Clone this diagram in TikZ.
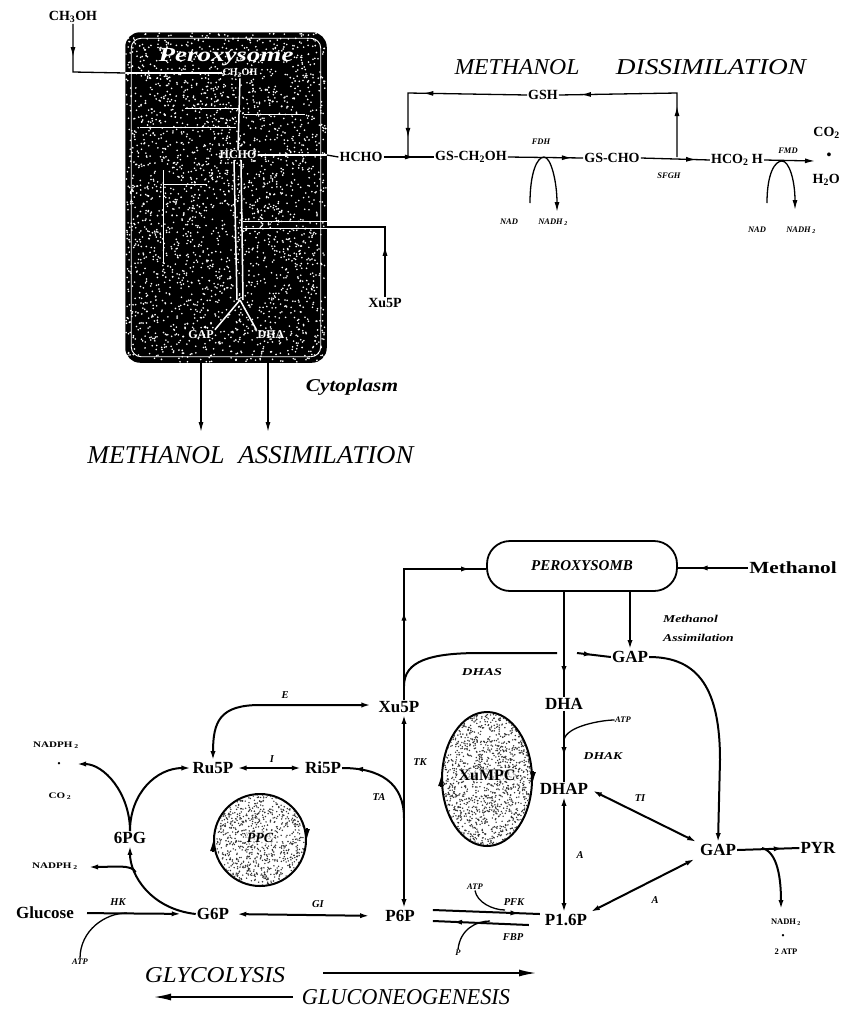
\documentclass[tikz,border=0pt]{standalone}
\usepackage{fontspec}
\usepackage{graphicx}
\setmainfont{Liberation Serif}
\usetikzlibrary{arrows.meta,decorations.markings,shapes.geometric,calc}
\newcommand{\fitw}[3]{\resizebox{#1pt}{#2pt}{#3}}
\newcommand{\sx}[2]{\scalebox{#1}[1]{#2}}
\begin{document}
\begin{tikzpicture}[x=1pt,y=-1pt,
  lab/.style={font=\fontsize{17}{19}\selectfont\bfseries, inner sep=1pt},
  tlab/.style={font=\fontsize{14}{16}\selectfont\bfseries, inner sep=1pt},
  enz/.style={font=\fontsize{10.5}{12}\selectfont\bfseries\itshape, inner sep=0.5pt},
  sml/.style={font=\fontsize{8.5}{10}\selectfont\bfseries, inner sep=0.5pt},
  smli/.style={font=\fontsize{8.5}{10}\selectfont\bfseries\itshape, inner sep=0.5pt},
  wlab/.style={font=\fontsize{12}{14}\selectfont\bfseries, text=white, inner sep=1pt},
  wl/.style={draw=white, line width=1.5pt},
  ln/.style={line width=2pt},
  tl/.style={line width=1.3pt},
  tip/.style={-{Latex[length=10pt,width=5pt]}},
  btip/.style={{Latex[length=10pt,width=5pt]}-{Latex[length=10pt,width=5pt]}},
  mid/.style={postaction={decorate,decoration={markings,mark=at position #1 with {\arrow{Latex[length=10pt,width=5pt]}}}}},
  midr/.style={postaction={decorate,decoration={markings,mark=at position #1 with {\arrowreversed{Latex[length=10pt,width=5pt]}}}}},
]
\useasboundingbox (0,0) rectangle (842,1010);

% ================= TOP: peroxisome box =================
\node[draw=black, line width=1.5pt, fill=black, rounded corners=14pt,
      minimum width=200, minimum height=329, inner sep=0pt] (pbox) at (226,197.5) {};
\begin{scope}
  \clip[rounded corners=14pt] (pbox.north west) rectangle (pbox.south east);
  \pgfmathsetseed{11}
  \foreach \i in {1,...,2600}{
    \pgfmathsetmacro{\rx}{126+200*rnd}
    \pgfmathsetmacro{\ry}{33+329*rnd}
    \fill[white] (\rx,\ry) circle (0.9);
  }
\end{scope}
\draw[white, line width=0.9pt, rounded corners=10pt]
  ($(pbox.north west)+(6,6)$) rectangle ($(pbox.south east)+(-6,-6)$);

\node[font=\fontsize{20}{22}\selectfont\bfseries\itshape, text=white, inner sep=0pt] (ptitle) at (226,57) {\sx{1.35}{Peroxysome}};
\node[wlab, font=\fontsize{10}{12}\selectfont\bfseries] (wch) at (240,73) {CH\textsubscript{3}OH};
\node[wlab] (whcho) at (238,155) {HCHO};
\node[wlab] (wgap) at (201,335) {GAP};
\node[wlab] (wdha) at (271,335) {DHA};

\coordinate (win) at (pbox.west |- wch);
\draw[wl] (win) -- (wch.west);
\draw[wl] (wch.south) -- (whcho.north);
\draw[wl, line width=1pt] (240,108) -- (185,108);
\draw[wl, line width=1pt] (236,127) -- (140,127);
\draw[wl, line width=1pt] (244,114) -- (305,114);
\draw[wl, line width=1pt] (163,170) -- (163,262);
\draw[wl, line width=1pt] (163,184) -- (207,184);
\coordinate (wr1) at (pbox.east |- whcho);
\draw[wl] (whcho.east) -- (wr1);
\coordinate (yv) at (240,300);
\draw[wl] ($(whcho.south)+(-4,0)$) -- ($(yv)+(-3,0)$);
\draw[wl] ($(whcho.south)+(3,0)$) -- ($(yv)+(3,0)$);
\draw[wl] (yv) -- (wgap.north east);
\draw[wl] (yv) -- (wdha.north west);
\coordinate (wx1) at (243,221);
\coordinate (wx2) at (243,228);
\draw[wl, line width=1pt] (wx1) -- (wx1 -| pbox.east);
\draw[wl, line width=1pt] (wx2) -- (wx2 -| pbox.east);

% outside of the box
\node[tlab] (ch3oh) at (73,17) {CH\textsubscript{3}OH};
\coordinate (c1) at (73,72);
\draw[tl, mid=0.33] (ch3oh.south) -- (c1) -- (win);

\node[tlab] (hcho) at (361,157) {HCHO};
\draw[tl] (wr1) -- (hcho.west);

\node[tlab] (xu5pt) at (385,303) {Xu5P};
\coordinate (xb) at (385,227);
\draw[tl, midr=0.6] (xb -| pbox.east) -- (xb) -- (xu5pt.north);

\coordinate (ga) at (201,432);
\coordinate (da) at (268,432);
\draw[tl, tip] (pbox.south -| ga) -- (ga);
\draw[tl, tip] (pbox.south -| da) -- (da);

\node[inner sep=0pt] (cyto) at (352,387) {\fitw{92}{12.5}{\bfseries\itshape Cytoplasm}};
\node[inner sep=0pt] (ma1) at (156,455) {\fitw{137}{17}{\itshape METHANOL}};
\node[inner sep=0pt] (ma2) at (326,455) {\fitw{175}{17}{\itshape ASSIMILATION}};

% ================= TOP: dissimilation =================
\node[inner sep=0pt] (md1) at (517,67) {\fitw{125}{15}{\itshape METHANOL}};
\node[inner sep=0pt] (md2) at (711,67) {\fitw{190}{15}{\itshape DISSIMILATION}};

\node[tlab] (gsh) at (543,95) {GSH};
\node[tlab] (gsch2oh) at (471,157) {GS-CH\textsubscript{2}OH};
\node[tlab] (gscho) at (612,158) {GS-CHO};
\node[tlab] (hco2h) at (737,160) {HCO\textsubscript{2} H};
\node[tlab, anchor=east] (co2) at (841,133) {CO\textsubscript{2}};
\node[tlab] (dotr) at (829,156) {\textbullet};
\node[tlab, anchor=east] (h2o) at (841,180) {H\textsubscript{2}O};

\coordinate (j1) at (408,156);
\coordinate (gl) at (408,93);
\draw[tl, mid=0.62] (hcho.east) -- (gsch2oh.west);
\draw[tl, mid=0.57, mid=0.9] (gsh.west) -- (gl) -- (j1);

\draw[tl, mid=0.85] (gsch2oh.east) -- (gscho.west);
\node[smli] (fdh) at (541,142) {FDH};
\node[smli] (nad1) at (509,222) {NAD};
\node[smli] (nadh1) at (553,222) {NADH\,\textsubscript{2}};
\coordinate (fa) at (530,203);
\coordinate (ft) at (544,157);
\coordinate (fb) at (557,212);
\draw[tl, tip] (fa) .. controls +(0,-30) and +(-7,0) .. (ft) .. controls +(7,0) and +(0,-30) .. (fb);

\coordinate (j2) at (677,157);
\coordinate (gr) at (677,93);
\draw[tl, mid=0.8] (gscho.east) -- (hco2h.west);
\draw[tl, midr=0.12, midr=0.72] (gsh.east) -- (gr) -- (j2);
\node[smli] (sfgh) at (669,176) {SFGH};

\coordinate (me) at (815,161);
\draw[tl, tip] (hco2h.east) -- (me);
\node[smli] (fmd) at (788,151) {FMD};
\node[smli] (nad2) at (757,230) {NAD};
\node[smli] (nadh2t) at (801,230) {NADH\,\textsubscript{2}};
\coordinate (ma) at (767,203);
\coordinate (mt) at (782,161);
\coordinate (mb) at (795,210);
\draw[tl, tip] (ma) .. controls +(0,-30) and +(-7,0) .. (mt) .. controls +(7,0) and +(0,-30) .. (mb);

% ================= BOTTOM =================
\node[draw, line width=1.8pt, rounded corners=23pt, minimum width=190, minimum height=50,
      font=\fontsize{15}{17}\selectfont\bfseries\itshape] (pero) at (582,566) {PEROXYSOMB};
\node[lab] (meth) at (793,568) {\sx{1.25}{Methanol}};
\draw[ln, mid=0.72] (meth.west) -- (pero.east |- meth.west);

\node[font=\fontsize{10.5}{19}\selectfont\bfseries\itshape, align=left, anchor=west, inner sep=0pt] (massim) at (663,628) {\sx{1.3}{Methanol}\\\sx{1.3}{Assimilation}};

\node[lab] (gapu) at (630,657) {GAP};
\draw[ln, tip] (pero.south -| gapu) -- (gapu.north);

\node[lab] (dha) at (564,704) {DHA};
\draw[ln, mid=0.8] (pero.south -| dha) -- (dha.north);

\node[lab] (xu5p) at (399,707) {Xu5P};
\coordinate (xup) at (404,569);
\draw[ln, mid=0.42, mid=0.93] (xu5p.north -| xup) -- (xup) -- (pero.west |- xup);

\coordinate (dh1) at (404,686);
\coordinate (dhm) at (480,653);
\coordinate (dh2) at (557,653);
\coordinate (dh3) at (577,653);
\draw[ln] (dh1) .. controls +(0,-25) and +(-50,0) .. (dhm) -- (dh2);
\draw[ln, mid=0.5] (dh3) -- (gapu.west);
\node[enz] (dhas) at (482,672) {\sx{1.4}{DHAS}};

\node[lab] (gapl) at (718,850) {GAP};
\coordinate (gc) at (720,760);
\draw[ln, tip] (gapu.east) .. controls +(50,0) and +(0,-70) .. (gc) -- (gapl.north);

\node[lab] (dhap) at (564,789) {DHAP};
\draw[ln, mid=0.65] (dha.south) -- (dhap.north);
\node[smli] (atp1) at (623,720) {ATP};
\coordinate (ab) at (564,740);
\draw[tl] (ab) .. controls +(2,-14) and +(-12,0) .. (atp1.west);
\node[enz] (dhak) at (603,756) {\sx{1.3}{DHAK}};

\node[lab] (f16p) at (566,920) {P1.6P};
\draw[ln, btip] (dhap.south -| dha) -- (f16p.north -| dha);
\node[enz] (a1) at (580,855) {A};

\draw[ln, btip, shorten <=3pt, shorten >=2pt] (dhap.east) -- (gapl.north west);
\node[enz] (ti) at (640,798) {TI};
\draw[ln, btip, shorten <=2pt, shorten >=4pt] (f16p.north east) -- (gapl.south west);
\node[enz] (a2) at (655,900) {A};

\node[lab] (pyr) at (818,848) {PYR};
\draw[ln, mid=0.75] (gapl.east) -- (pyr.west);
\coordinate (nb) at (762,848);
\coordinate (ne) at (781,910);
\draw[ln, tip] (nb) .. controls +(16,4) and +(0,-30) .. (ne);
\node[sml] (nadh3) at (786,922) {NADH\,\textsubscript{2}};
\node[sml] (dotb) at (783,937) {\textbullet};
\node[sml] (atp2b) at (786,952) {2 ATP};

\node[lab] (f6p) at (400,916) {P6P};
\draw[ln, btip] (xu5p.south -| xup) -- (f6p.north -| xup);
\node[enz] (tk) at (420,762) {TK};
\node[enz] (ta) at (379,797) {TA};

\node[lab] (ri5p) at (323,768) {Ri5P};
\coordinate (rj) at (404,818);
\draw[ln, midr=0.12] (ri5p.east) .. controls +(38,0) and +(0,-35) .. (rj);

\node[lab] (ru5p) at (213,768) {Ru5P};
\draw[ln, btip, shorten <=2pt, shorten >=2pt] (ru5p.east) -- (ri5p.west);
\node[enz] (ii) at (272,759) {I};

\coordinate (e1) at (260,705);
\draw[ln, btip, shorten >=6pt] (ru5p.north) .. controls +(0,-40) and +(-40,0) .. (e1) -- (xu5p.west |- e1);
\node[enz] (ee) at (285,695) {E};

\node[lab] (pg6) at (130,838) {6PG};
\node[sml] (nadph1) at (56,745) {\sx{1.3}{NADPH\,\textsubscript{2}}};
\node[sml] (dotu) at (59,765) {\textbullet};
\node[sml] (co2b) at (60,796) {\sx{1.3}{CO\,\textsubscript{2}}};
\coordinate (nl) at (76,764);
\draw[ln, tip] (pg6.north) .. controls +(0,-38) and +(28,0) .. (nl);
\draw[ln, tip] (pg6.north) .. controls +(0,-38) and +(-35,0) .. (ru5p.west);

\node[sml] (nadph2) at (55,866) {\sx{1.3}{NADPH\,\textsubscript{2}}};
\node[lab] (g6p) at (213,914) {G6P};
\draw[ln, tip] (g6p.west) .. controls +(-45,-5) and +(0,30) .. coordinate[pos=0.7] (nb2) (pg6.south);
\coordinate (nb2e) at (88,867);
\draw[ln, tip] (nb2) .. controls +(-4,-8) and +(25,0) .. (nb2e);

\node[lab] (glu) at (45,913) {Glucose};
\coordinate (hkj) at (127,913);
\draw[ln, tip, shorten <=12pt, shorten >=14pt] (glu.east) -- (g6p.west);
\node[enz] (hk) at (118,902) {HK};
\node[smli] (atp3) at (80,962) {ATP};
\draw[tl] (atp3.north) .. controls +(0,-28) and +(-22,0) .. (hkj);

\draw[ln, btip, shorten <=6pt, shorten >=14pt] (g6p.east) -- (f6p.west);
\node[enz] (gi) at (318,904) {GI};

\draw[ln, mid=0.82] ($(f6p.east)+(17,-6)$) -- ($(f16p.west)+(-4,-6)$);
\draw[ln, mid=0.8] ($(f16p.west)+(-15,5)$) -- ($(f6p.east)+(17,5)$);
\node[smli] (atp4) at (475,887) {ATP};
\coordinate (pkj) at (505,910);
\draw[tl] (atp4.south) .. controls +(2,12) and +(-12,0) .. (pkj);
\node[smli] (pp) at (458,953) {P};
\coordinate (fbj) at (490,921);
\draw[tl] (pp.north) .. controls +(2,-20) and +(-14,0) .. (fbj);
\node[enz] (pfk) at (514,902) {PFK};
\node[enz] (fbp) at (513,937) {FBP};

% cycles
\node[ellipse, draw, line width=2pt, minimum width=90, minimum height=134, inner sep=0pt] (xumpc) at (487,779) {};
\begin{scope}
  \clip (487,779) ellipse [x radius=44, y radius=66];
  \pgfmathsetseed{5}
  \foreach \i in {1,...,1500}{
    \pgfmathsetmacro{\rx}{443+88*rnd}
    \pgfmathsetmacro{\ry}{713+132*rnd}
    \fill[black!80] (\rx,\ry) circle (0.8);
  }
\end{scope}
\node[font=\fontsize{16}{18}\selectfont\bfseries, fill=white, fill opacity=0.6, text opacity=1, inner sep=1pt] (xumpct) at (487,775) {XuMPC};
\draw[line width=2pt, -{Latex[length=11pt,width=6pt]}] ($(xumpc.west)+(0,8)$) -- ($(xumpc.west)+(0,-4)$);
\draw[line width=2pt, -{Latex[length=11pt,width=6pt]}] ($(xumpc.east)+(0,-8)$) -- ($(xumpc.east)+(0,4)$);

\node[circle, draw, line width=2pt, minimum size=92, inner sep=0pt] (ppc) at (260,840) {};
\begin{scope}
  \clip (260,840) circle (45);
  \pgfmathsetseed{9}
  \foreach \i in {1,...,1000}{
    \pgfmathsetmacro{\rx}{214+92*rnd}
    \pgfmathsetmacro{\ry}{794+92*rnd}
    \fill[black!80] (\rx,\ry) circle (0.8);
  }
\end{scope}
\node[font=\fontsize{14}{16}\selectfont\bfseries\itshape, fill=white, fill opacity=0.6, text opacity=1, inner sep=1pt] (ppct) at (260,838) {PPC};
\draw[line width=2pt, -{Latex[length=11pt,width=6pt]}] ($(ppc.west)+(0,12)$) -- ($(ppc.west)+(0,0)$);
\draw[line width=2pt, -{Latex[length=11pt,width=6pt]}] ($(ppc.east)+(0,-12)$) -- ($(ppc.east)+(0,0)$);

% glycolysis / gluconeogenesis
\node[inner sep=0pt] (glyc) at (215,975) {\fitw{140}{15}{\itshape GLYCOLYSIS}};
\node[inner sep=0pt] (gneo) at (406,997) {\fitw{208}{15}{\itshape GLUCONEOGENESIS}};
\coordinate (gy1) at (323,973);
\coordinate (gy2) at (537,973);
\coordinate (gn1) at (293,997);
\coordinate (gn2) at (153,997);
\draw[ln, -{Latex[length=18pt,width=7pt]}] (gy1) -- (gy2);
\draw[ln, -{Latex[length=18pt,width=7pt]}] (gn1) -- (gn2);
\end{tikzpicture}
\end{document}
